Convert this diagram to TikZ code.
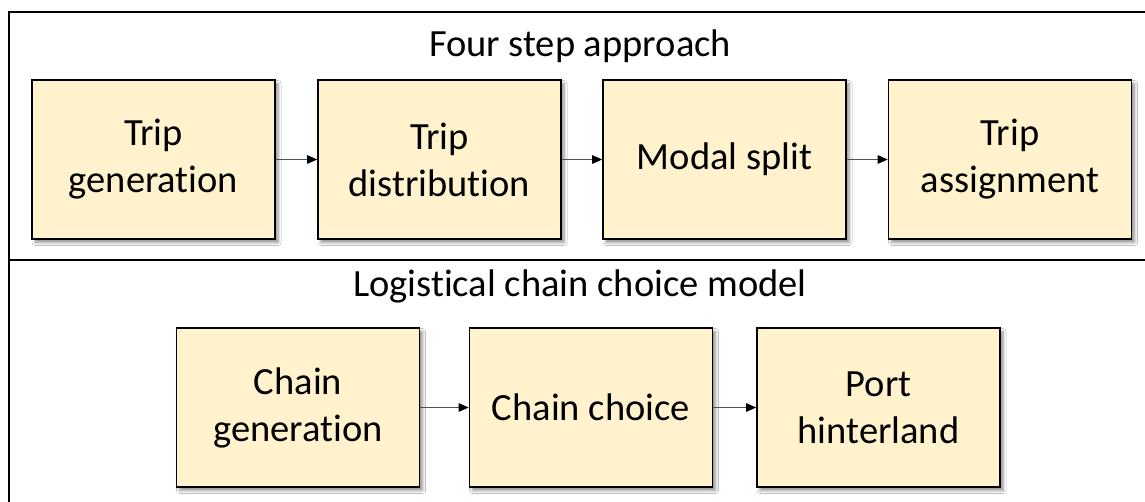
\documentclass[tikz,border=0pt]{standalone}
\usepackage{fontspec}
\setmainfont{Carlito}[Ligatures={NoCommon,NoRequired,NoContextual}]
\usetikzlibrary{arrows.meta,shadows.blur}
\definecolor{boxfill}{HTML}{FFF2CC}
\definecolor{linkgray}{HTML}{505050}
\tikzset{
  stage/.style={draw=black, line width=1.6pt, fill=boxfill,
    minimum width=243pt, minimum height=159pt, inner sep=0pt,
    align=center, font=\fontsize{38.5}{47}\selectfont,
    blur shadow={shadow xshift=3pt, shadow yshift=-3.5pt,
      shadow blur steps=6, shadow blur radius=3pt, shadow opacity=45}},
  heading/.style={anchor=base, inner sep=0pt, font=\fontsize{38.5}{47}\selectfont},
  link/.style={draw=linkgray, line width=0.9pt,
    -{Triangle[length=10pt,width=8.5pt,color=black,fill=black]}},
  frame/.style={draw=black, line width=1.6pt}
}
\begin{document}
\begin{tikzpicture}[x=1pt, y=-1pt]
\useasboundingbox (0,0) rectangle (1145,502);
\clip (0,0) rectangle (1145,502);
\fill[white] (0,0) rectangle (1145,502);

% panel frame and divider
\draw[frame] (1150,12) -- (9,12) -- (9,510);
\draw[frame] (9,260) -- (1150,260);

% upper panel: four step approach
\node[heading] (t1) at (580,57) {Four step approach};
\node[stage] (gen)  at (153.5,159.5) {Trip\\generation};
\node[stage] (dist) at (439.5,159.5) {Trip\\distribution};
\node[stage] (mode) at (724.5,159.5) {Modal split};
\node[stage] (assn) at (1010,159.5)  {Trip\\assignment};
\draw[link] (gen) -- (dist);
\draw[link] (dist) -- (mode);
\draw[link] (mode) -- (assn);

% lower panel: logistical chain choice model
\node[heading] (t2) at (580,297) {Logistical chain choice model};
\node[stage] (cgen)   at (298,407.5)   {Chain\\generation};
\node[stage] (cchoice) at (591,407.5)  {Chain choice};
\node[stage] (port)   at (878.5,407.5) {Port\\hinterland};
\draw[link] (cgen) -- (cchoice);
\draw[link] (cchoice) -- (port);
\end{tikzpicture}
\end{document}
